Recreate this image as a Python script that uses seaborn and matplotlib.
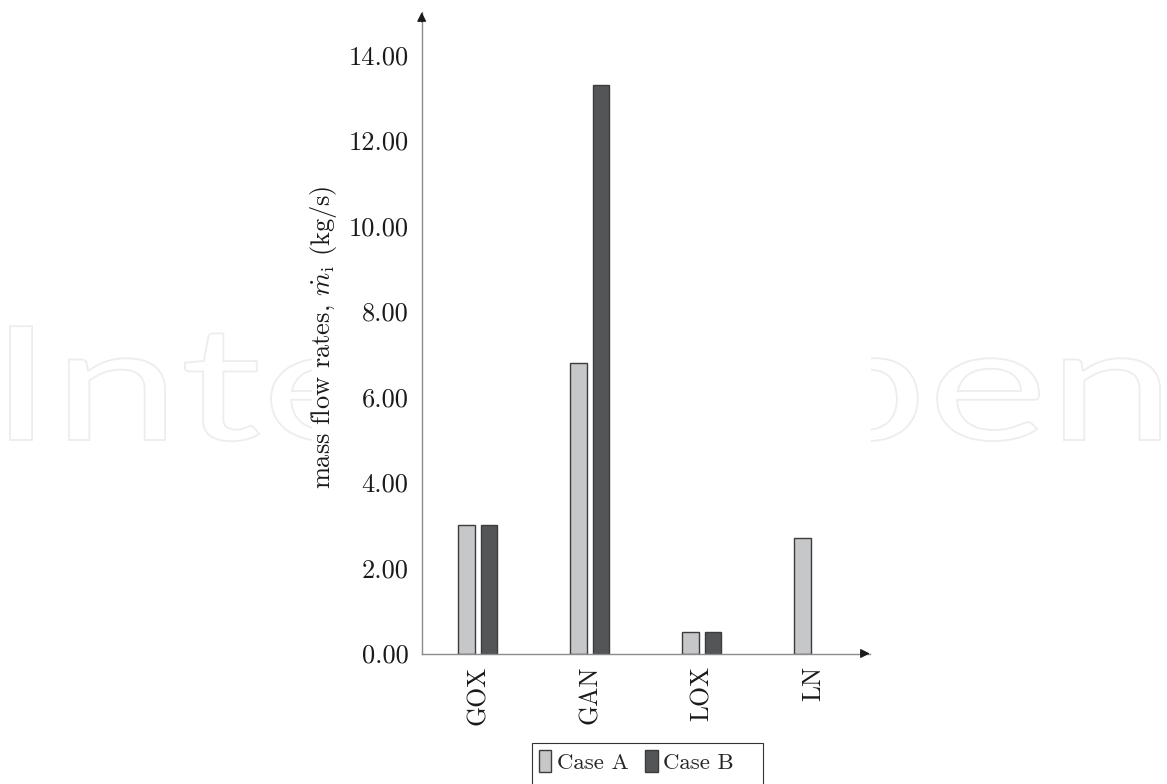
import pandas as pd
import matplotlib
matplotlib.use("Agg")
import matplotlib.pyplot as plt
import matplotlib.transforms as mtransforms
from matplotlib.ticker import FormatStrFormatter
from matplotlib.textpath import TextPath
from matplotlib.font_manager import FontProperties
from matplotlib.patches import PathPatch, Rectangle
import seaborn as sns

# данные
fluids = ["GOX", "GAN", "LOX", "LN"]
case_a = [3.0, 6.8, 0.5, 2.7]
case_b = [3.0, 13.3, 0.5, None]   # для LN во втором случае нет столбца
cases = ["Case A", "Case B"]
case_colors = ["#c6c7c9", "#545557"]
y_ticks = [0, 2, 4, 6, 8, 10, 12, 14]

df = pd.DataFrame({
    "fluid": fluids * 2,
    "case": [cases[0]] * 4 + [cases[1]] * 4,
    "mdot": case_a + case_b,
})

sns.set_theme(style="white")
plt.rcParams["font.family"] = "serif"
plt.rcParams["font.serif"] = ["cmr10"]
plt.rcParams["mathtext.fontset"] = "cm"
plt.rcParams["axes.formatter.use_mathtext"] = True

W, H = 1167, 784
fig = plt.figure(figsize=(W / 100, H / 100), dpi=100)

# водяной знак на фоне (середина закрыта белым полем графика)
tp = TextPath((0, 0), "IntechOpen", size=100, prop=FontProperties(family="Lato"))
ext = tp.get_extents()
sx = (1160 - 10) / ext.width
sy = 117 / ext.y1
tr = (mtransforms.Affine2D().translate(-ext.x0, 0).scale(sx, sy)
      .translate(10, H - 440).scale(1 / W, 1 / H) + fig.transFigure)
fig.add_artist(PathPatch(tp, facecolor="none", edgecolor="#ededed", lw=1.3,
                         transform=tr, zorder=-3))
fig.add_artist(Rectangle((312 / W, 250 / H), (871 - 312) / W, 290 / H,
                         transform=fig.transFigure, facecolor="white",
                         edgecolor="none", zorder=-2))

ax = fig.add_axes([421.7 / W, (H - 653.5) / H, 448 / W, (653.5 - 12.25) / H])
ax.set_facecolor("none")

sns.barplot(data=df, x="fluid", y="mdot", hue="case", order=fluids,
            hue_order=cases, palette=case_colors, width=0.4, gap=0.285,
            edgecolor="#3c3c3c", linewidth=1.0, errorbar=None, ax=ax)

ax.set_xlim(-0.5, 3.5)
ax.set_ylim(0, 15)
ax.set_yticks(y_ticks)
ax.yaxis.set_major_formatter(FormatStrFormatter("%.2f"))
ax.tick_params(axis="y", direction="inout", length=7, width=0.8,
               color="#8c8c8c", pad=6, labelsize=19, labelcolor="#1a1a1a")
ax.tick_params(axis="x", direction="out", length=7, width=0.8,
               color="#8c8c8c", pad=1.5, labelsize=18.5, labelcolor="#1a1a1a",
               labelrotation=90)

for s in ["top", "right"]:
    ax.spines[s].set_visible(False)
for s in ["left", "bottom"]:
    ax.spines[s].set_color("#8c8c8c")
    ax.spines[s].set_linewidth(1.0)

# стрелки на концах осей
arrow = dict(arrowstyle="-|>", color="#1a1a1a", lw=0.8, mutation_scale=14,
             shrinkA=0, shrinkB=0)
ax.annotate("", xy=(0, 1), xytext=(0, 0.985), xycoords="axes fraction",
            arrowprops=arrow, annotation_clip=False)
ax.annotate("", xy=(1, 0), xytext=(0.98, 0), xycoords="axes fraction",
            arrowprops=arrow, annotation_clip=False)

ax.set_xlabel("")
ax.set_ylabel(r"mass flow rates, $\dot{m}_\mathrm{i}$ (kg/s)", fontsize=19,
              color="#1a1a1a")
ax.yaxis.set_label_coords((339 - 421.7) / 448, 0.494)

# легенда без рамки, рамка рисуется отдельно (она шире содержимого)
handles, labels = ax.get_legend_handles_labels()
if ax.get_legend() is not None:
    ax.get_legend().remove()
leg = fig.legend(handles, labels, loc="upper left",
                 bbox_to_anchor=(532 / W, (H - 743) / H), ncol=2,
                 fontsize=16.5, handlelength=0.55, handleheight=1.1,
                 handletextpad=0.25, columnspacing=0.7, borderpad=0.3,
                 borderaxespad=0, frameon=False)
fig.add_artist(Rectangle((532 / W, -3 / H), (763 - 532) / W, (H - 743 + 3) / H,
                         transform=fig.transFigure, fill=False,
                         edgecolor="#333333", lw=0.8))

fig.savefig("out.png", dpi=100)
